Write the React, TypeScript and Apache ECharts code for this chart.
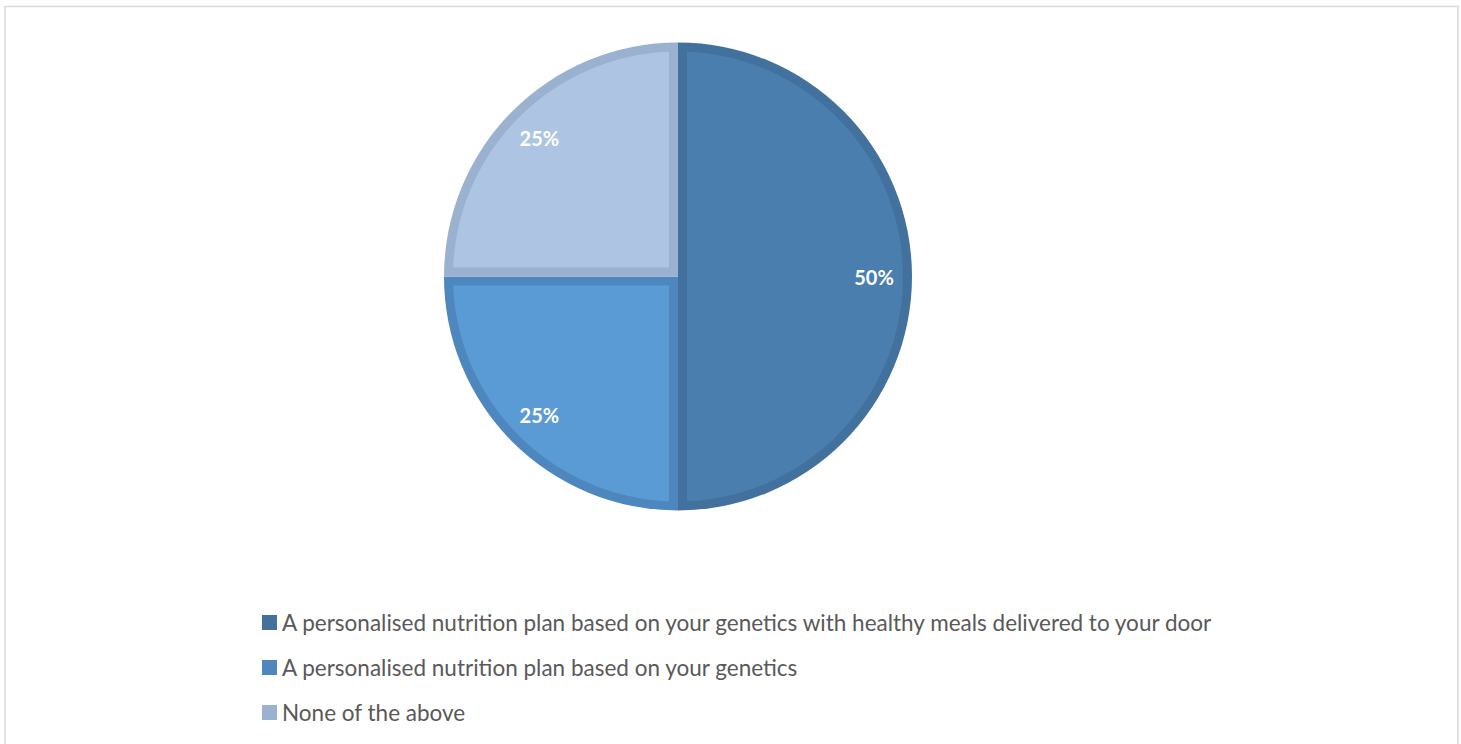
import React, { useEffect, useRef } from "react";
import * as echarts from "echarts";

const categories: string[] = [
  "A personalised nutrition plan based on your genetics with healthy meals delivered to your door",
  "A personalised nutrition plan based on your genetics",
  "None of the above",
];
const values: number[] = [50, 25, 25];
const bandColors: string[] = ["#41719C", "#4E86BE", "#9AB1CF"];
const fillColors: string[] = ["#4A7EAF", "#5B9BD5", "#ADC5E2"];

const CX = 678;
const CY = 276.5;
const R = 234;
const BAND = 9;

export default function App() {
  const ref = useRef<HTMLDivElement>(null);

  useEffect(() => {
    if (!ref.current) return;
    const chart = echarts.init(ref.current, undefined, { renderer: "svg" });
    const total = values.reduce((a, b) => a + b, 0);

    const renderItem = (params: any, api: any) => {
      const i = params.dataIndex;
      let before = 0;
      for (let k = 0; k < i; k++) before += values[k];
      const v = api.value(0);
      const startDeg = 90 - (360 * before) / total;
      const endDeg = startDeg - (360 * v) / total;
      const s = (startDeg * Math.PI) / 180;
      const e = (endDeg * Math.PI) / 180;
      const theta = s - e;
      const mid = (s + e) / 2;
      const r = R - BAND;
      const delta = Math.asin(BAND / r);
      const a0 = s - delta;
      const a1 = e + delta;
      const pts: number[][] = [];
      const steps = 90;
      for (let k = 0; k <= steps; k++) {
        const a = a0 + ((a1 - a0) * k) / steps;
        pts.push([CX + r * Math.cos(a), CY - r * Math.sin(a)]);
      }
      const dist = BAND / Math.sin(theta / 2);
      pts.push([CX + dist * Math.cos(mid), CY - dist * Math.sin(mid)]);
      return {
        type: "polygon",
        shape: { points: pts },
        style: { fill: fillColors[i] },
      };
    };

    chart.setOption({
      animation: false,
      backgroundColor: "#ffffff",
      graphic: [
        {
          type: "rect",
          shape: { x: 5, y: 6.5, width: 1453, height: 800 },
          style: { fill: "none", stroke: "#D9D9D9", lineWidth: 1.5 },
          silent: true,
          z: 0,
        },
      ],
      legend: {
        orient: "vertical",
        left: 262,
        top: 611,
        padding: 0,
        itemWidth: 15,
        itemHeight: 15,
        itemGap: 22,
        icon: "rect",
        data: categories,
        textStyle: {
          fontFamily: "Lato",
          fontSize: 22.5,
          lineHeight: 23,
          color: "#595959",
        },
      },
      series: [
        {
          type: "pie",
          name: "band",
          z: 1,
          center: [CX, CY],
          radius: [0, R],
          startAngle: 90,
          clockwise: true,
          label: { show: false },
          labelLine: { show: false },
          silent: true,
          data: categories.map((c, i) => ({
            name: c,
            value: values[i],
            itemStyle: { color: bandColors[i] },
          })),
        },
        {
          type: "custom",
          name: "fill",
          z: 2,
          coordinateSystem: "none",
          silent: true,
          renderItem,
          data: values.map((v) => [v]),
        },
        {
          type: "pie",
          name: "labels",
          z: 3,
          center: [CX, CY],
          radius: [158, 228],
          startAngle: 90,
          clockwise: true,
          silent: true,
          legendHoverLink: false,
          itemStyle: { color: "rgba(0,0,0,0)" },
          label: {
            show: true,
            position: "inside",
            formatter: "{d}%",
            color: "#FFFFFF",
            fontFamily: "Lato",
            fontWeight: "bold",
            fontSize: 20,
          },
          labelLine: { show: false },
          data: categories.map((c, i) => ({ name: c, value: values[i] })),
        },
      ],
    });
    return () => chart.dispose();
  }, []);

  return (
    <div
      ref={ref}
      style={{ position: "absolute", left: 0, top: 0, width: 1461, height: 744 }}
    />
  );
}
